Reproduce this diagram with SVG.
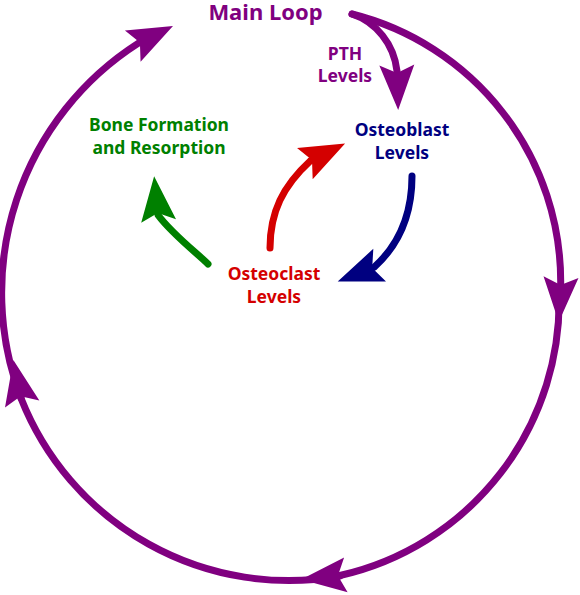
<svg xmlns="http://www.w3.org/2000/svg" width="580" height="595" viewBox="0 0 580 595">
  <style>
    .lbl { font-family: "Noto Sans", "Open Sans", sans-serif; font-weight: 700; font-size: 17.5px; text-anchor: middle; }
    .title { font-size: 22px; }
    .edge { fill: none; stroke-width: 7; stroke-linecap: round; stroke-linejoin: round; }
    .purple { fill: #800080; }
    .green { fill: #008000; }
    .red { fill: #d40000; }
    .navy { fill: #000080; }
  </style>
  <defs>
    <marker id="ah-p" viewBox="-46 -18 47 36" markerWidth="47" markerHeight="36" refX="-37" refY="0" orient="auto" markerUnits="userSpaceOnUse" overflow="visible">
      <path d="M0,0 L-45,-17.5 L-37,0 L-45,17.5 Z" fill="#800080"/>
    </marker>
    <marker id="ah-g" viewBox="-46 -18 47 36" markerWidth="47" markerHeight="36" refX="-37" refY="0" orient="auto" markerUnits="userSpaceOnUse" overflow="visible">
      <path d="M0,0 L-45,-17.5 L-37,0 L-45,17.5 Z" fill="#008000"/>
    </marker>
    <marker id="ah-r" viewBox="-46 -18 47 36" markerWidth="47" markerHeight="36" refX="-37" refY="0" orient="auto" markerUnits="userSpaceOnUse" overflow="visible">
      <path d="M0,0 L-45,-17.5 L-37,0 L-45,17.5 Z" fill="#d40000"/>
    </marker>
    <marker id="ah-n" viewBox="-46 -18 47 36" markerWidth="47" markerHeight="36" refX="-37" refY="0" orient="auto" markerUnits="userSpaceOnUse" overflow="visible">
      <path d="M0,0 L-45,-17.5 L-37,0 L-45,17.5 Z" fill="#000080"/>
    </marker>
  </defs>

  <g id="connectors">
    <path class="edge" stroke="#800080" marker-end="url(#ah-p)" d="M352,14 A276,276 0 0 1 560.7,283.1 L560.6,285.1"/>
    <path class="edge" stroke="#800080" marker-end="url(#ah-p)" d="M559,292 A281,281 0 0 1 339.9,575.5 L337.9,575.7"/>
    <path class="edge" stroke="#800080" marker-end="url(#ah-p)" d="M340,576 A288,288 0 0 1 21,398.2 L20.6,396.2"/>
    <path class="edge" stroke="#800080" marker-end="url(#ah-p)" d="M21,398 A296,296 0 0 1 138.1,43.4 L139.9,42.5"/>
    <path class="edge" stroke="#800080" marker-end="url(#ah-p)" d="M352,14 C376,22 394,44 397,71 L397.06,73"/>
    <path class="edge" stroke="#008000" marker-end="url(#ah-g)" d="M208,264 C198,254 172,234 158,215 L157.8,213"/>
    <path class="edge" stroke="#d40000" marker-end="url(#ah-r)" d="M270,248 C270,212 283,186 310.2,161 L312,160.1"/>
    <path class="edge" stroke="#000080" marker-end="url(#ah-n)" d="M412,176 C412,212 400,244 374,267.3 L372.2,268"/>
  </g>

  <g id="main-loop">
    <text class="lbl title purple" x="265.5" y="20">Main Loop</text>
  </g>
  <g id="pth-levels">
    <text class="lbl purple" x="345" y="59.5">PTH</text>
    <text class="lbl purple" x="345" y="82">Levels</text>
  </g>
  <g id="bone-formation">
    <text class="lbl green" x="159" y="131">Bone Formation</text>
    <text class="lbl green" x="159" y="154">and Resorption</text>
  </g>
  <g id="osteoblast-levels">
    <text class="lbl navy" x="402" y="136">Osteoblast</text>
    <text class="lbl navy" x="402" y="159">Levels</text>
  </g>
  <g id="osteoclast-levels">
    <text class="lbl red" x="274" y="280">Osteoclast</text>
    <text class="lbl red" x="274" y="303">Levels</text>
  </g>
</svg>
